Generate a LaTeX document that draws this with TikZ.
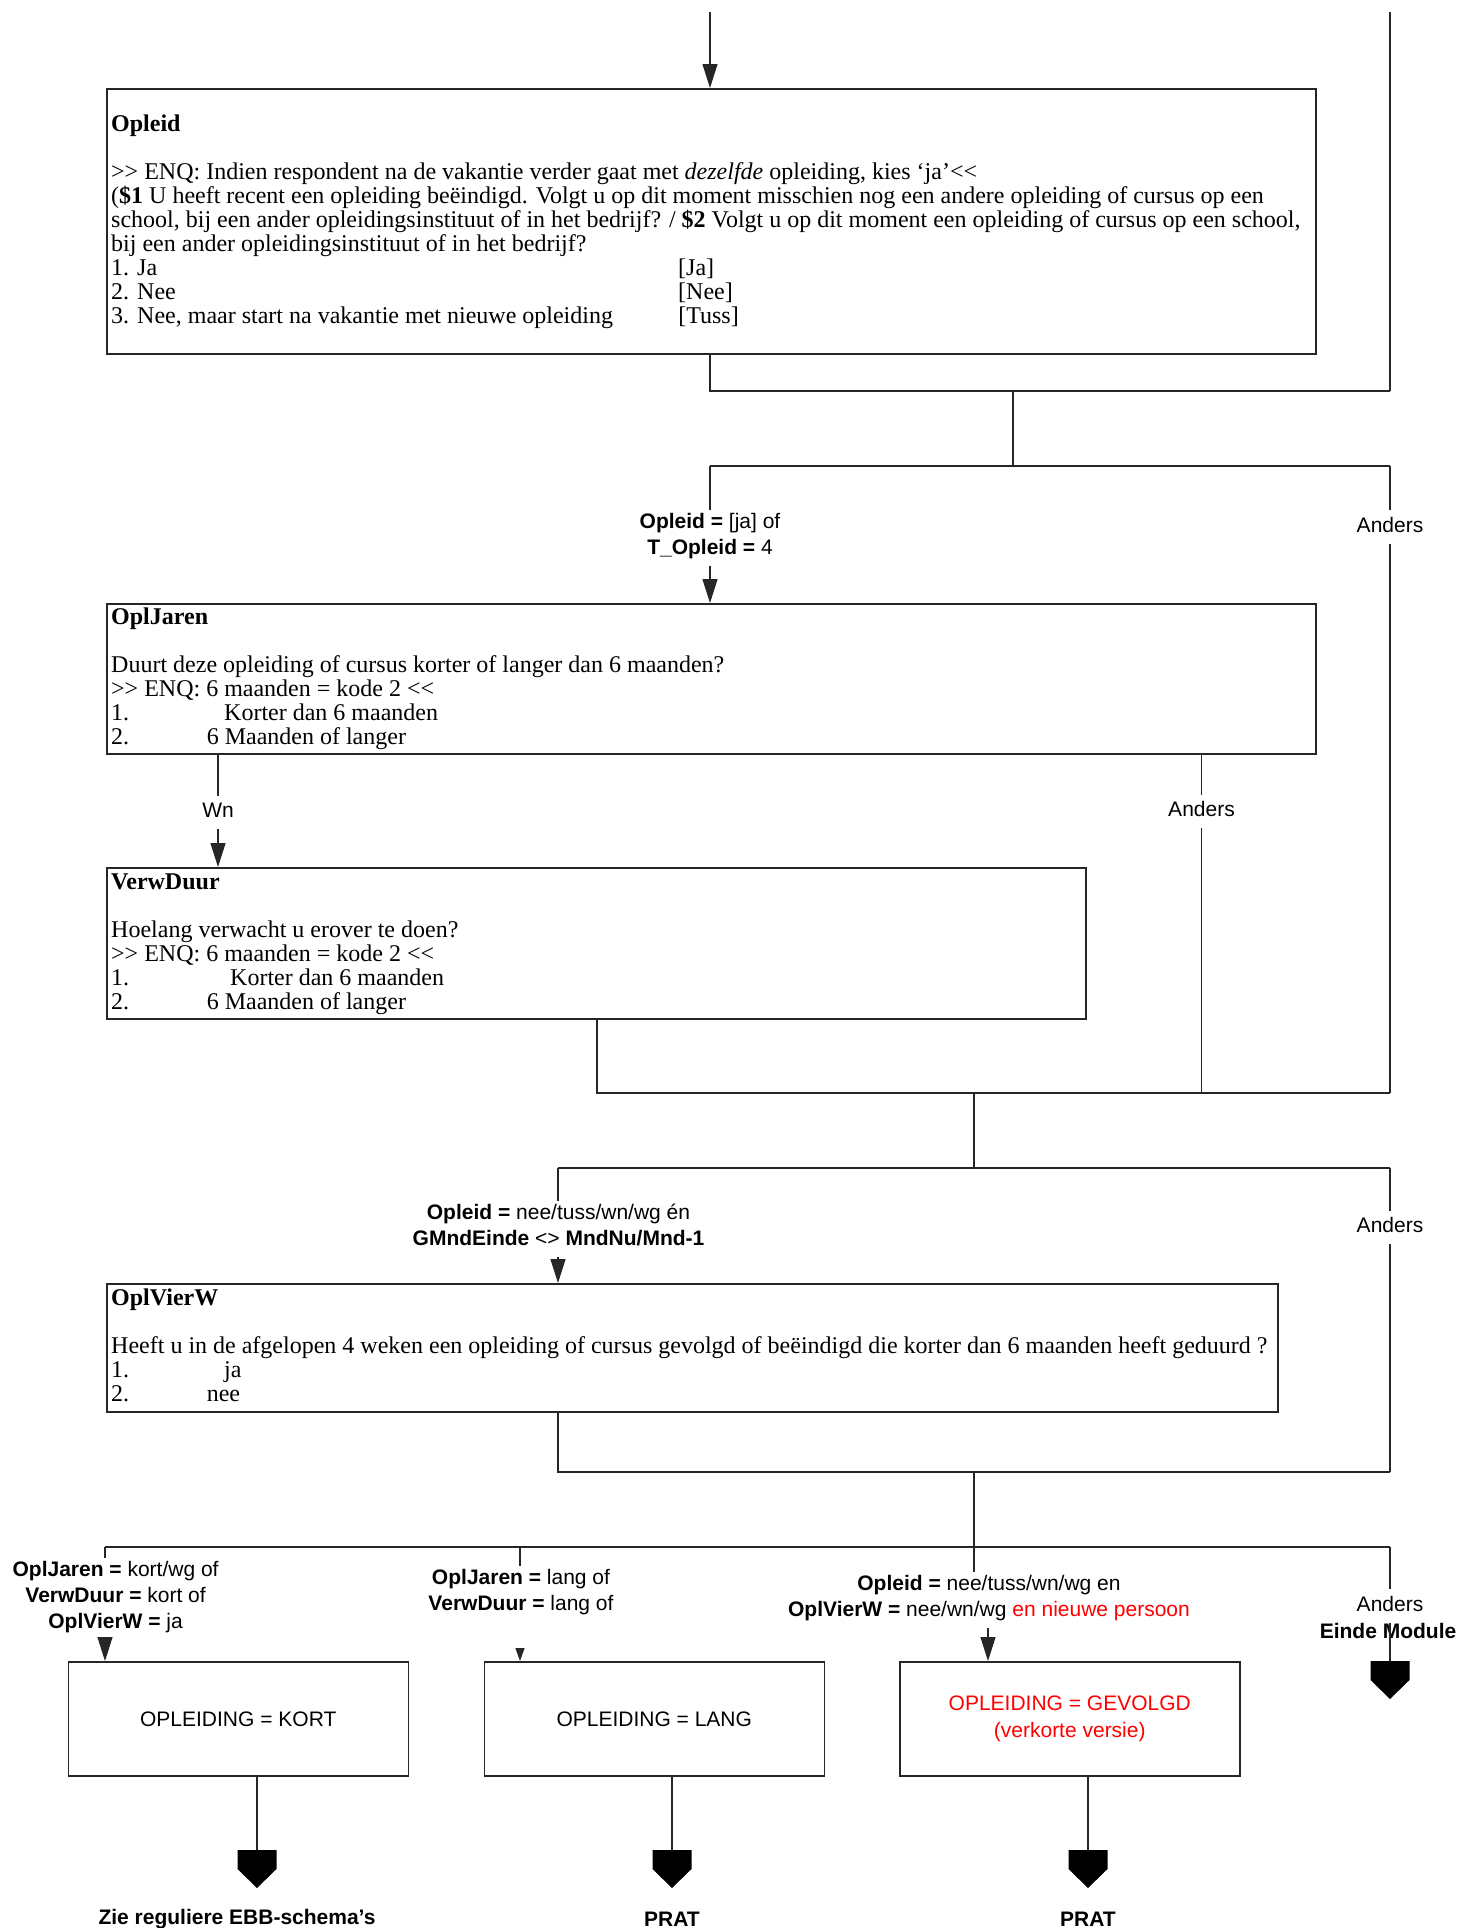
\documentclass[tikz,border=0pt]{standalone}
\usepackage{fontspec}
\setmainfont{Liberation Serif}
\setsansfont{Liberation Sans}
\usetikzlibrary{arrows.meta}
\begin{document}
\begin{tikzpicture}[x=1pt,y=-1pt,
  qbox/.style={draw=black!85, line width=1.5pt, anchor=north west, inner sep=0pt},
  conn/.style={draw=black!85, line width=1.2pt},
  arr/.style={conn, -{Triangle[width=15pt,length=24pt]}},
  sarr/.style={conn, -{Triangle[width=9pt,length=13pt]}},
  lab/.style={font=\sffamily\fontsize{21}{26.3}\selectfont, align=center, fill=white,
    inner xsep=3pt, inner ysep=3.2pt, execute at begin node=\strut, execute at end node=\strut},
  body/.style={anchor=base west, inner sep=0pt, font=\fontsize{24}{24}\selectfont},
  endbox/.style={draw=black!85, line width=1.5pt, anchor=north west, minimum width=340pt, minimum height=114pt,
    font=\sffamily\fontsize{21}{27}\selectfont, align=center},
  endlab/.style={anchor=base, inner sep=0pt, font=\sffamily\bfseries\fontsize{21}{25}\selectfont},
  term/.style={fill=black}
]
\useasboundingbox (0,0) rectangle (1461,1928);

% ---------- question boxes ----------
\node[qbox, minimum width=1209pt, minimum height=265pt] (opleid) at (106,88) {};
\node[body] (opleidtxt) at (111,131.5) {\parbox[t]{1400pt}{\raggedright
\textbf{Opleid}\\[24pt]
>{}> ENQ: Indien respondent na de vakantie verder gaat met \textit{dezelfde} opleiding, kies ‘ja’<{}<\\
(\textbf{\$1} U heeft recent een opleiding beëindigd. Volgt u op dit moment misschien nog een andere opleiding of cursus op een\\
school, bij een ander opleidingsinstituut of in het bedrijf? / \textbf{\$2} Volgt u op dit moment een opleiding of cursus op een school,\\
bij een ander opleidingsinstituut of in het bedrijf?\\
\makebox[567pt][l]{1. Ja}[Ja]\\
\makebox[567pt][l]{2. Nee}[Nee]\\
\makebox[567pt][l]{3. Nee, maar start na vakantie met nieuwe opleiding}[Tuss]}};

\node[qbox, minimum width=1209pt, minimum height=150pt] (opljaren) at (106,603) {};
\node[body] (opljarentxt) at (111,624.5) {\parbox[t]{1400pt}{\raggedright
\textbf{OplJaren}\\[24pt]
Duurt deze opleiding of cursus korter of langer dan 6 maanden?\\
>{}> ENQ: 6 maanden = kode 2 <{}<\\
\makebox[113pt][l]{1.}Korter dan 6 maanden\\
\makebox[95.6pt][l]{2.}6 Maanden of langer}};

\node[qbox, minimum width=979pt, minimum height=151pt] (verwduur) at (106,867) {};
\node[body] (verwduurtxt) at (111,889) {\parbox[t]{1400pt}{\raggedright
\textbf{VerwDuur}\\[24pt]
Hoelang verwacht u erover te doen?\\
>{}> ENQ: 6 maanden = kode 2 <{}<\\
\makebox[119pt][l]{1.}Korter dan 6 maanden\\
\makebox[95.6pt][l]{2.}6 Maanden of langer}};

\node[qbox, minimum width=1171pt, minimum height=128pt] (oplvierw) at (106,1283) {};
\node[body] (oplvierwtxt) at (111,1305.5) {\parbox[t]{1400pt}{\raggedright
\textbf{OplVierW}\\[24pt]
Heeft u in de afgelopen 4 weken een opleiding of cursus gevolgd of beëindigd die korter dan 6 maanden heeft geduurd ?\\
\makebox[113pt][l]{1.}ja\\
\makebox[95.6pt][l]{2.}nee}};

% ---------- end boxes ----------
\node[endbox] (kort) at (67.5,1661) {OPLEIDING = KORT};
\node[endbox] (lang) at (483.5,1661) {OPLEIDING = LANG};
\node[endbox, text=red] (gevolgd) at (899,1661) {OPLEIDING = GEVOLGD\\(verkorte versie)};

% ---------- labels ----------
\node[lab] (labA) at (710,538) {\textbf{Opleid =} [ja] of\\\textbf{T\_Opleid =} 4};
\node[lab] (labAn1) at (1390,527) {Anders};
\node[lab] (labWn) at (218,812.5) {Wn};
\node[lab] (labAn2) at (1201.5,811.5) {Anders};
\node[lab] (labB) at (558.5,1229) {\textbf{Opleid =} nee/tuss/wn/wg én\\\textbf{GMndEinde} <> \textbf{MndNu/Mnd-1}};
\node[lab] (labAn3) at (1390,1227.5) {Anders};
\node[lab] (labC1) at (115.6,1599) {\textbf{OplJaren =} kort/wg of\\\textbf{VerwDuur =} kort of\\\textbf{OplVierW =} ja};
\node[lab] (labC2) at (521,1594) {\textbf{OplJaren =} lang of\\\textbf{VerwDuur =} lang of};
\node[lab] (labC3) at (989,1600) {\textbf{Opleid =} nee/tuss/wn/wg en\\\textbf{OplVierW =} nee/wn/wg \textcolor{red}{en nieuwe persoon}};
\node[lab] (labAn4) at (1390,1606) {Anders};
\node[lab, fill=none, font=\sffamily\bfseries\fontsize{21}{25.7}\selectfont] (einde) at (1388,1633.5) {Einde Module};

\node[endlab] (zie) at (237,1924) {Zie reguliere EBB-schema\symbol{39}s};
\node[endlab] (prat1) at (672,1926) {PRAT};
\node[endlab] (prat2) at (1088,1926) {PRAT};

% ---------- junction coordinates ----------
\coordinate (top) at (710,12);
\coordinate (topR) at (1390,12);
\coordinate (j1L) at (710,391);
\coordinate (j1M) at (1013,391);
\coordinate (j1R) at (1390,391);
\coordinate (j2L) at (710,466);
\coordinate (j2M) at (1013,466);
\coordinate (j2R) at (1390,466);
\coordinate (oj1) at (218,753);
\coordinate (oj2) at (1201.5,753);
\coordinate (j3L) at (597,1093);
\coordinate (j3A) at (1201.5,1093);
\coordinate (j3M) at (974,1093);
\coordinate (j3R) at (1390,1093);
\coordinate (j4L) at (558,1168);
\coordinate (j4M) at (974,1168);
\coordinate (j4R) at (1390,1168);
\coordinate (j5L) at (558,1472);
\coordinate (j5M) at (974,1472);
\coordinate (j5R) at (1390,1472);
\coordinate (j6L) at (105,1547);
\coordinate (j6C) at (520,1547);
\coordinate (j6R) at (1390,1547);
\coordinate (c3x) at (988,1661);
\coordinate (t1) at (257,1850);
\coordinate (t2) at (672,1850);
\coordinate (t3) at (1088,1850);
\coordinate (t4) at (1390,1661);

% ---------- connectors ----------
\draw[arr] (top) -- (opleid.north -| top);
\draw[conn] (topR) -- (j1R);
\draw[conn] (opleid.south -| j1L) -- (j1L) -- (j1R);
\draw[conn] (j1M) -- (j2M);
\draw[conn] (j2L) -- (j2R);
\draw[conn] (j2L) -- (labA.north -| j2L);
\draw[arr] (labA.south -| j2L) -- (opljaren.north -| j2L);
\draw[conn] (j2R) -- (labAn1.north -| j2R);
\draw[conn] (labAn1.south -| j2R) -- (j3R);

\draw[conn] (oj1) -- (labWn.north -| oj1);
\draw[arr] (labWn.south -| oj1) -- (verwduur.north -| oj1);
\draw[conn] (oj2) -- (labAn2.north -| oj2);
\draw[conn] (labAn2.south -| oj2) -- (j3A);
\draw[conn] (verwduur.south -| j3L) -- (j3L) -- (j3R);
\draw[conn] (j3M) -- (j4M);

\draw[conn] (j4L) -- (j4R);
\draw[conn] (j4L) -- (labB.north -| j4L);
\draw[arr] (labB.south -| j4L) -- (oplvierw.north -| j4L);
\draw[conn] (j4R) -- (labAn3.north -| j4R);
\draw[conn] (labAn3.south -| j4R) -- (j5R);
\draw[conn] (oplvierw.south -| j5L) -- (j5L) -- (j5R);

\draw[conn] (j5M) -- (labC3.north -| j5M);
\draw[conn] (j6L) -- (j6R);
\draw[conn] (j6L) -- (labC1.north -| j6L);
\draw[arr] (labC1.south -| j6L) -- (kort.north -| j6L);
\draw[conn] (j6C) -- (labC2.north -| j6C);
\draw[sarr, shorten <=26pt] (labC2.south -| j6C) -- (lang.north -| j6C);
\draw[arr] (labC3.south -| c3x) -- (gevolgd.north -| c3x);
\draw[conn] (j6R) -- (labAn4.north -| j6R);
\draw[conn] (labAn4.south -| j6R) -- (t4);

\draw[conn] (kort.south -| t1) -- (t1);
\draw[conn] (lang.south -| t2) -- (t2);
\draw[conn] (gevolgd.south -| t3) -- (t3);

% ---------- terminators ----------
\foreach \t in {t1,t2,t3,t4}{
  \fill[term] (\t) ++(-19.5,0) -- ++(39,0) -- ++(0,19) -- ++(-19.5,19) -- ++(-19.5,-19) -- cycle;
}
\end{tikzpicture}
\end{document}
